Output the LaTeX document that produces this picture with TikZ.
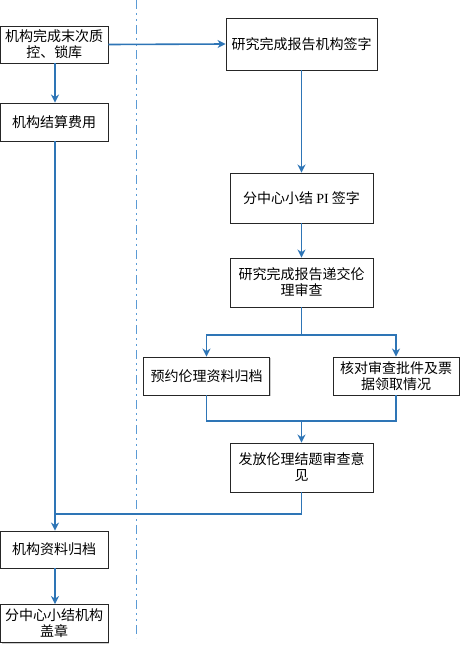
\documentclass[tikz,border=0pt]{standalone}
\usepackage{fontspec}
\setmainfont{Liberation Serif}
\newfontfamily\cjk{Noto Sans CJK SC}
\usetikzlibrary{arrows.meta,shadows}
\definecolor{flow}{RGB}{46,117,182}
\definecolor{lane}{RGB}{91,155,213}
\begin{document}
\begin{tikzpicture}[x=1pt,y=-1pt,
  box/.style={draw=black!85, line width=0.9pt, fill=white, align=center, inner sep=0pt,
    font=\cjk\fontsize{14}{16}\selectfont,
    drop shadow={shadow xshift=1.2pt, shadow yshift=-1.2pt, fill=black!40}},
  lbox/.style={box, minimum width=107.5pt},
  rbox/.style={box, minimum width=143pt},
  sbox/.style={box, minimum width=126pt},
  flowline/.style={draw=flow, line width=1.6pt},
  arr/.style={flowline, -{Stealth[length=8pt,width=8pt,inset=2.5pt]}}]
\useasboundingbox (0,0) rectangle (463,648);
\draw[lane, line width=1pt, dash pattern=on 9pt off 4pt on 2pt off 4pt on 2pt off 4pt] (136,0) -- (136,638);

\node[lbox, minimum height=37pt] (a) at (54.25,44.5) {机构完成末次质\\控、锁库};
\node[lbox, minimum height=38pt] (b) at (54.25,122) {机构结算费用};
\node[lbox, minimum height=37pt] (i) at (54.25,549.5) {机构资料归档};
\node[lbox, minimum height=38pt] (j) at (54.25,623.5) {分中心小结机构\\盖章};

\node[box, minimum width=151pt, minimum height=52pt] (c) at (301.5,44) {研究完成报告机构签字};
\node[rbox, minimum height=50pt] (d) at (301.5,198) {分中心小结 {\rmfamily PI} 签字};
\node[rbox, minimum height=49pt] (e) at (301.5,282.5) {研究完成报告递交伦\\理审查};
\node[sbox, minimum height=38pt] (f) at (206.5,376) {预约伦理资料归档};
\node[sbox, minimum height=38pt] (g) at (396,376) {核对审查批件及票\\据领取情况};
\node[rbox, minimum height=49pt] (h) at (301.5,467.5) {发放伦理结题审查意\\见};

\coordinate (split) at (301.5,335);
\coordinate (join) at (301.5,421);
\coordinate (merge) at (55,514);

\draw[arr] (a.south -| merge) -- (b.north -| merge);
\draw[arr] (a.east) -- (c.west);
\draw[arr] (c.south) -- (d.north);
\draw[arr] (d.south) -- (e.north);
\draw[flowline] (e.south) -- (split);
\draw[arr] (split) -| (f.north);
\draw[arr] (split) -| (g.north);
\draw[flowline] (f.south) |- (join);
\draw[flowline] (g.south) |- (join);
\draw[arr] (join) -- (h.north);
\draw[flowline] (h.south) |- (merge);
\draw[arr] (b.south -| merge) -- (i.north -| merge);
\draw[arr] (i.south -| merge) -- (j.north -| merge);
\end{tikzpicture}
\end{document}
